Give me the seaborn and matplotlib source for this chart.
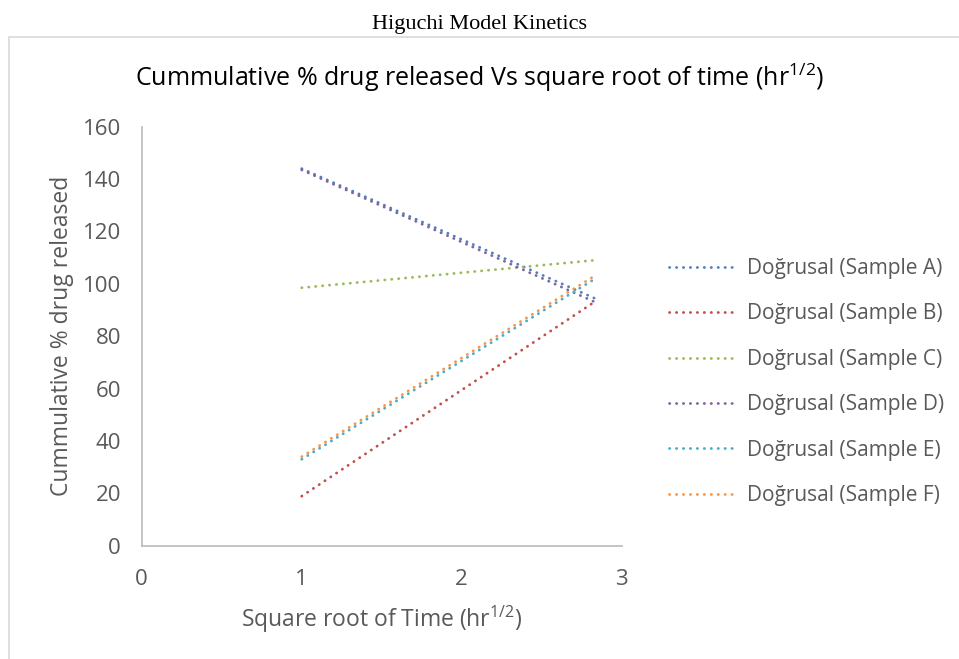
import numpy as np
import pandas as pd
import matplotlib.pyplot as plt
import matplotlib.patches as mpatches
import seaborn as sns

# =====================================================
# Data (linear trendlines)
# =====================================================
sqrt_time = [1.0, 2.83]
samples = ['Sample A', 'Sample B', 'Sample C', 'Sample D', 'Sample E', 'Sample F']
sample_a = [144.0, 94.5]
sample_b = [18.9, 93.1]
sample_c = [98.5, 109.0]
sample_d = [143.5, 93.1]
sample_e = [33.0, 101.8]
sample_f = [34.0, 103.0]
colors = ['#4F81BD', '#C0504D', '#9BBB59', '#8064A2', '#4BACC6', '#F79646']

series = [sample_a, sample_b, sample_c, sample_d, sample_e, sample_f]
df = pd.concat([
    pd.DataFrame({'x': sqrt_time, 'y': vals, 'sample': f'Doğrusal ({name})'})
    for name, vals in zip(samples, series)
], ignore_index=True)

# =====================================================
# Style
# =====================================================
sns.set_style('white')
plt.rcParams['font.family'] = ['Open Sans', 'DejaVu Sans']
plt.rcParams['mathtext.fontset'] = 'custom'
plt.rcParams['mathtext.rm'] = 'Open Sans'
GRAY = '#595959'
AXIS = '#BFBFBF'
DOTS = (0, (0.1, 2.4))

fig = plt.figure(figsize=(9.59, 6.59), dpi=100)
ax = fig.add_axes([0.1478, 0.172, 0.5005, 0.6357])

# chart area frame
fig.patches.append(mpatches.Rectangle((9 / 959, -0.01), 1.0, 1 - 37 / 659 + 0.01,
                                      transform=fig.transFigure, fill=False,
                                      edgecolor='#D9D9D9', linewidth=1.2))

for i, name in enumerate(df['sample'].unique()):
    sub = df[df['sample'] == name]
    sns.lineplot(data=sub, x='x', y='y', ax=ax, color=colors[i], label=name,
                 linewidth=2.0, linestyle=DOTS, dash_capstyle='round')

ax.set_xlim(0, 3)
ax.set_ylim(0, 160)
ax.set_xticks([0, 1, 2, 3])
ax.set_yticks(range(0, 161, 20))
for s in ['top', 'right']:
    ax.spines[s].set_visible(False)
for s in ['left', 'bottom']:
    ax.spines[s].set_color(AXIS)
    ax.spines[s].set_linewidth(1.3)
ax.tick_params(axis='both', colors=AXIS, labelcolor=GRAY, labelsize=16,
               length=5, width=1.3, direction='out')
ax.tick_params(axis='x', pad=12)
ax.tick_params(axis='y', pad=10)

ax.set_xlabel('Square root of Time (hr$^{\\mathregular{1/2}}$)', color=GRAY,
              fontsize=16.5, labelpad=10)
ax.set_ylabel('Cummulative % drug released', color=GRAY, fontsize=16.5, labelpad=6)

fig.text(0.5, 1 - 78 / 659, 'Cummulative % drug released Vs square root of time (hr$^{\\mathregular{1/2}}$)',
         ha='center', va='center', fontsize=18, color='black')
fig.text(0.5, 1 - 29 / 659, 'Higuchi Model Kinetics', ha='center', va='baseline',
         fontsize=16, color='black', family=['Liberation Serif', 'DejaVu Serif'])

leg = ax.legend(loc='center left', bbox_to_anchor=(661 / 959, 1 - 382 / 659),
                bbox_transform=fig.transFigure, frameon=False, fontsize=15,
                handlelength=3.3, handletextpad=0.45, labelspacing=1.17,
                borderaxespad=0)
for t in leg.get_texts():
    t.set_color(GRAY)

plt.savefig('out.png', dpi=100)
